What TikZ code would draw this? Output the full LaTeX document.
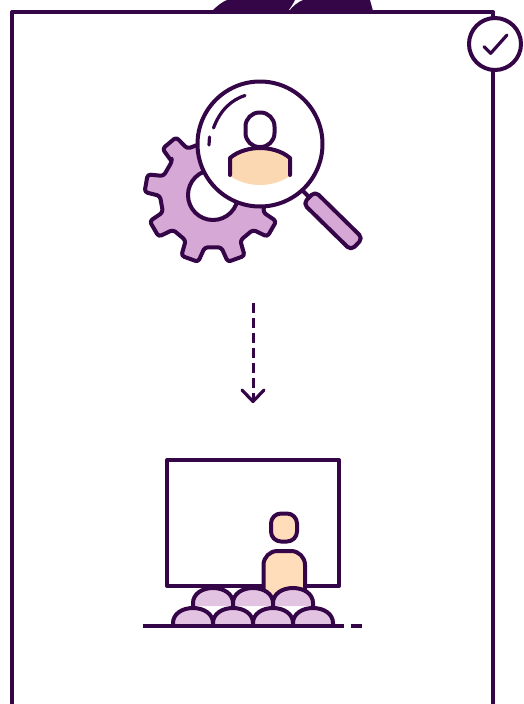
\documentclass[tikz,border=0pt]{standalone}
\definecolor{ink}{HTML}{340547}
\definecolor{gearc}{HTML}{D6A8D6}
\definecolor{seat}{HTML}{E2C3E2}
\definecolor{skin}{HTML}{FBD8B2}
\definecolor{skinb}{HTML}{FFDDBB}
\tikzset{
  px/.style={x=0.75pt,y=-0.75pt},
  ln/.style={draw=ink,line width=#1*0.75pt,line join=round,line cap=round},
  ln/.default=4,
}
\newcommand{\dome}[3]{% cx, base y, colour
  \path[ln=4,fill=#3] (#1-20,#2) -- (#1-20,#2-3)
    .. controls (#1-20,#2-12) and (#1-11,#2-18) .. (#1,#2-18)
    .. controls (#1+11,#2-18) and (#1+20,#2-12) .. (#1+20,#2-3) -- (#1+20,#2);
}
\begin{document}
\begin{tikzpicture}[px]
\useasboundingbox (0,0) rectangle (524,704);
% peeking shapes behind the card
\fill[ink] (212,11) .. controls (217,6) and (222,2) .. (227,0) -- (295,0) .. controls (293,4) and (291,7) .. (288,11) -- cycle;
\fill[ink] (289,11) .. controls (293,6) and (298,2) .. (303,0) -- (370,0) .. controls (371,4) and (372,7) .. (373,11) -- cycle;
% card
\path[ln=4,fill=white] (12,710) -- (12,12) -- (493,12) -- (493,710);
% tick badge
\path[ln=4,fill=white] (495,44) circle[radius=26];
\path[ln=3.2] (484,46.7) -- (490.7,53.3) -- (507,35);
% gear
\begin{scope}[shift={(213,195)}]
\path[draw=ink,line width=4*0.75pt,fill=gearc,line join=round,rounded corners=3*0.75pt]
  (-141:53)
  \foreach \a in {-130,-90,-50,-10,30,70,110,150,190}{
    -- (\a-11:53) -- (\a-7.5:68.5) -- (\a+7.5:68.5) -- (\a+11:53)
  } -- cycle;
\path[ln=4,fill=white] (0,0) circle[radius=25];
\end{scope}
% magnifier
\path[ln=4] (301,189) -- (308,196);
\path[ln=4,fill=gearc,rounded corners=5*0.75pt] (303.2,203.5) -- (315,191.3) -- (362.8,238.2) -- (351,250.4) -- cycle;
\path[ln=4,fill=white] (260,144) circle[radius=62.5];
\path[ln=3.2] (245,95.5) .. controls (232,99.5) and (220,110) .. (213.5,128);
\path[ln=3.2] (209.5,137) -- (209,145);
% person in lens
\fill[skin] (230,176) -- (230,158) .. controls (238,151) and (250,148) .. (260,148) .. controls (270,148) and (282,151) .. (290,158) -- (290,176) .. controls (272,188) and (248,188) .. (230,176) -- cycle;
\path[ln=4] (230,175) -- (230,158) .. controls (238,151) and (250,148) .. (260,148) .. controls (270,148) and (282,151) .. (290,158) -- (290,175);
\path[ln=4,fill=white,rounded corners=14*0.75pt] (245.5,112.5) rectangle (274.5,147);
% board
\path[ln=4,fill=white] (167,460) rectangle (339,586);
% presenter
\path[ln=4,fill=skinb,rounded corners=10*0.75pt] (271,513.5) rectangle (297,541.5);
\path[ln=4,fill=skinb,rounded corners=14*0.75pt] (263.5,600) -- (263.5,551) -- (305,551) -- (305,600);
% audience
\dome{213}{606}{seat}\dome{253}{606}{seat}\dome{293}{606}{seat}
\dome{193}{626}{seat}\dome{233}{626}{seat}\dome{273}{626}{seat}\dome{313}{626}{seat}
% floor
\path[draw=ink,line width=3.5*0.75pt] (143,626) -- (344,626);
\path[draw=ink,line width=3.5*0.75pt] (351,626) -- (362,626);
% arrow
\path[draw=ink,line width=3*0.75pt,dash pattern=on 7.5pt off 3.75pt] (253,303) -- (253,400);
\path[ln=3.2] (242,390) -- (253,401.5) -- (264,390);
\end{tikzpicture}
\end{document}
